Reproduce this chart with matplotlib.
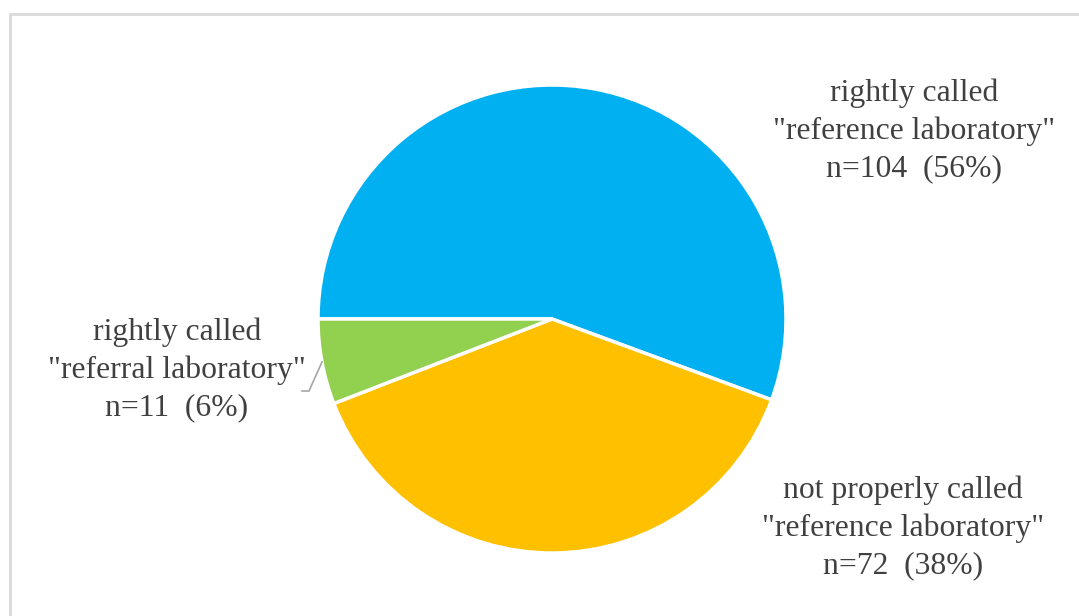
import matplotlib
matplotlib.use('Agg')
import matplotlib.pyplot as plt
from matplotlib.patches import Rectangle
import numpy as np

# data
categories = ['rightly called\n"reference laboratory"',
              'not properly called\n"reference laboratory"',
              'rightly called\n"referral laboratory"']
counts = [104, 72, 11]
percents = [56, 38, 6]
slice_colors = ['#00B0F0', '#FFC000', '#92D050']

W, H = 1079, 616
fig = plt.figure(figsize=(W / 100, H / 100), dpi=100)
ax = fig.add_axes([0, 0, 1, 1])

# chart frame
fig.patches.append(Rectangle((10 / W, -0.05), 1.1, (H - 14) / H + 0.05, transform=fig.transFigure,
                             fill=False, edgecolor='#D9D9D9', linewidth=2))

cx, cy, r = 552, H - 319, 234
wedges, _ = ax.pie(counts, colors=slice_colors, startangle=180, counterclock=False,
                   center=(cx, cy), radius=r, frame=True,
                   wedgeprops=dict(edgecolor='white', linewidth=2.5))
ax.set_xlim(0, W)
ax.set_ylim(0, H)
ax.set_aspect('equal')
ax.axis('off')

labels = [f'{c}\nn={n}  ({p}%)' for c, n, p in zip(categories, counts, percents)]
label_pos = [(914, H - 131), (903, H - 528), (177, H - 370)]
font = dict(family='Liberation Serif', fontsize=22.8, color='#404040',
            ha='center', va='center', linespacing=1.36)
for lab, (x, y) in zip(labels, label_pos):
    ax.text(x, y, lab, **font)

# leader line for the small green slice
w = wedges[2]
mid = np.deg2rad((w.theta1 + w.theta2) / 2)
ex, ey = cx + r * np.cos(mid), cy + r * np.sin(mid)
ax.plot([302, 309, ex], [H - 391, H - 391, ey], color='#A6A6A6', linewidth=1.2)

fig.savefig('out.png', dpi=100)
